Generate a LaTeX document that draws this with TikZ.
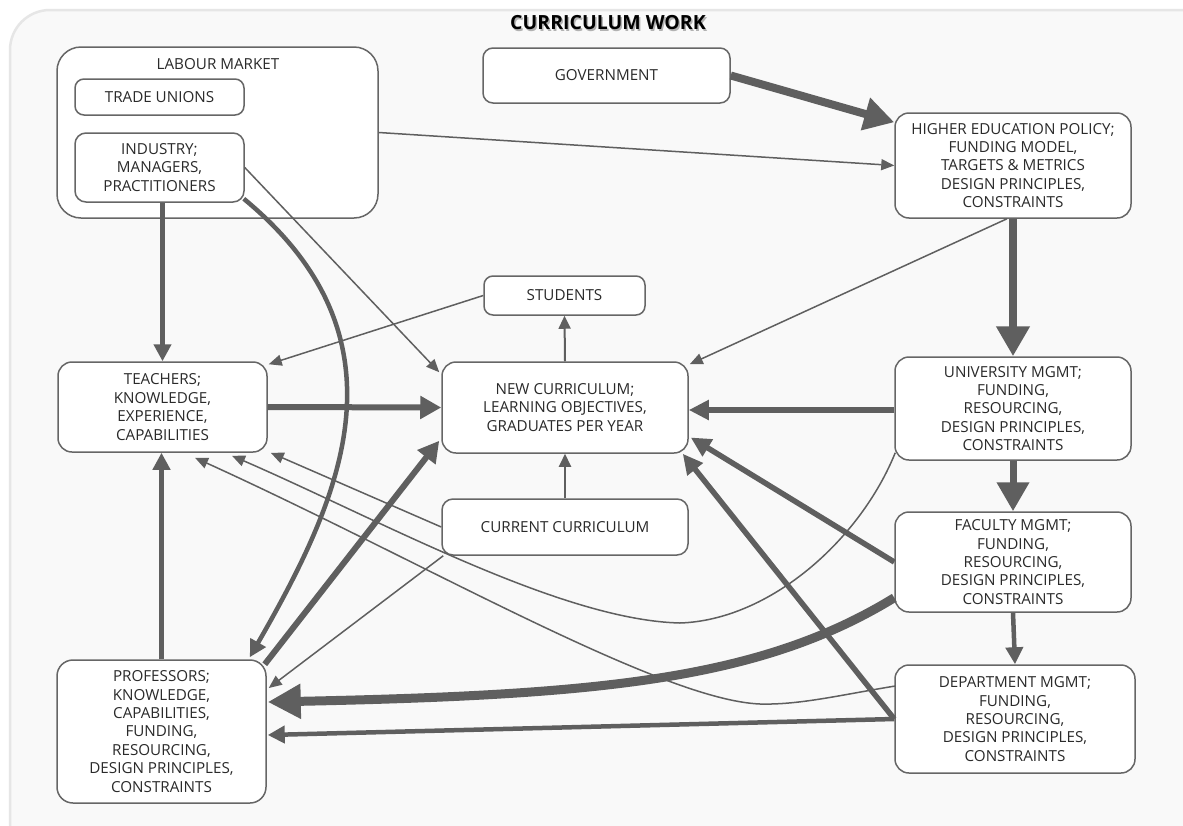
\documentclass[tikz,border=0pt]{standalone}
\usepackage{fontspec}
\setmainfont{Open Sans}
\usetikzlibrary{arrows.meta,calc}
\definecolor{lc}{HTML}{5F5F5F}
\definecolor{bc}{HTML}{666666}
\definecolor{tc}{HTML}{2A2A2A}
\definecolor{panelc}{HTML}{F9F9F9}
\definecolor{pedge}{HTML}{E6E6E6}
\tikzset{
 box/.style={draw=bc, line width=1.5pt, fill=white, rounded corners=14pt, inner sep=0pt,
   align=center, text=tc, font=\fontsize{15.2}{18.4}\selectfont},
 ln1/.style={draw=lc, line width=1.5pt, -{Triangle[length=13pt,width=11pt]}},
 ln2/.style={draw=lc, line width=2pt, -{Triangle[length=13pt,width=12pt]}},
 ln4/.style={draw=lc, line width=4.5pt, -{Triangle[length=17pt,width=17pt]}},
 ln5/.style={draw=lc, line width=5.5pt, -{Triangle[length=20pt,width=19pt]}},
 ln6/.style={draw=lc, line width=6pt, -{Triangle[length=21pt,width=22pt]}},
 ln7/.style={draw=lc, line width=7pt, -{Triangle[length=29pt,width=31pt]}},
 ln8/.style={draw=lc, line width=8pt, -{Triangle[length=30pt,width=32pt]}},
 ln9/.style={draw=lc, line width=9pt, -{Triangle[length=33pt,width=33pt]}},
}
\begin{document}
\begin{tikzpicture}[x=1pt,y=-1pt]
\useasboundingbox (0,0) rectangle (1183,825);
\begin{scope}
\clip (0,0) rectangle (1183,825);
\fill[white] (0,0) rectangle (1183,825);
\fill[panelc, draw=pedge, line width=2.5pt, rounded corners=40pt] (10,10) rectangle (1240,880);
\end{scope}
% title
\node[font=\fontsize{19.5}{22}\selectfont\bfseries, text=black!30] (titles) at (609.5,24.5) {CURRICULUM WORK};
\node[font=\fontsize{19.5}{22}\selectfont\bfseries, text=black] (title) at (608,23) {CURRICULUM WORK};
% nodes
\node[box, rounded corners=24pt, minimum width=321pt, minimum height=171pt] (lab) at (217.5,132.5) {};
\node[text=tc, font=\fontsize{15.2}{18.4}\selectfont, inner sep=0pt] (labt) at (218,64) {LABOUR MARKET};
\node[box, rounded corners=9pt, minimum width=169pt, minimum height=36pt] (tu) at (159.5,97) {TRADE UNIONS};
\node[box, rounded corners=11pt, minimum width=169pt, minimum height=69pt] (ind) at (159.5,167.5) {INDUSTRY;\\MANAGERS,\\PRACTITIONERS};
\node[box, rounded corners=10pt, minimum width=247pt, minimum height=55pt] (gov) at (606.5,75.5) {GOVERNMENT};
\node[box, minimum width=236pt, minimum height=105pt] (hep) at (1013,165.5) {HIGHER EDUCATION POLICY;\\FUNDING MODEL,\\TARGETS \& METRICS\\DESIGN PRINCIPLES,\\CONSTRAINTS};
\node[box, rounded corners=9pt, minimum width=161pt, minimum height=39pt] (stu) at (564.5,295.5) {STUDENTS};
\node[box, minimum width=209pt, minimum height=90pt] (tea) at (162.5,407) {TEACHERS;\\KNOWLEDGE,\\EXPERIENCE,\\CAPABILITIES};
\node[box, minimum width=246pt, minimum height=91pt] (nc) at (565,407.5) {NEW CURRICULUM;\\LEARNING OBJECTIVES,\\GRADUATES PER YEAR};
\node[box, minimum width=236pt, minimum height=103pt] (univ) at (1013,408.5) {UNIVERSITY MGMT;\\FUNDING,\\RESOURCING,\\DESIGN PRINCIPLES,\\CONSTRAINTS};
\node[box, rounded corners=11pt, minimum width=246pt, minimum height=56pt] (cc) at (565,527) {CURRENT CURRICULUM};
\node[box, minimum width=236pt, minimum height=100pt] (fac) at (1013,562) {FACULTY MGMT;\\FUNDING,\\RESOURCING,\\DESIGN PRINCIPLES,\\CONSTRAINTS};
\node[box, minimum width=240pt, minimum height=108pt] (dept) at (1015,719) {DEPARTMENT MGMT;\\FUNDING,\\RESOURCING,\\DESIGN PRINCIPLES,\\CONSTRAINTS};
\node[box, rounded corners=16pt, minimum width=209pt, minimum height=143pt] (prof) at (161.5,731.5) {PROFESSORS;\\KNOWLEDGE,\\CAPABILITIES,\\FUNDING,\\RESOURCING,\\DESIGN PRINCIPLES,\\CONSTRAINTS};
% connectors
\draw[ln8] (gov.east) -- ($(hep.north west)+(0,10)$);
\draw[ln1] (lab.east) -- (hep.west);
\draw[ln4] (ind.south -| tea.north) -- (tea.north);
\draw[ln4] ($(ind.south east)+(-1,-4)$) .. controls (415,340) and (340,500) .. ($(prof.north east)+(-17,-2)$);
\draw[ln1] (ind.east) -- ($(nc.north west)+(-2,11)$);
\draw[ln1] (stu.west) -- ($(tea.north east)+(1,3)$);
\draw[ln2] (nc.north) -- (stu.south);
\draw[ln2] (cc.north) -- (nc.south);
\draw[ln6] (tea.east) -- (nc.west);
\draw[ln1] ($(hep.south)+(-6,0)$) -- ($(nc.north east)+(1,3)$);
\draw[ln8] (hep.south) -- (univ.north);
\draw[ln5] ($(univ.west)+(0,1.5)$) -- ($(nc.east)+(0,2.5)$);
\draw[ln7] (univ.south) -- (fac.north);
\draw[ln4] (fac.south) -- (dept.north);
\draw[ln5] (fac.west) -- ($(nc.east)+(2,30)$);
\draw[ln5] (dept.west) -- ($(nc.south east)+(-6,0)$);
\draw[ln4] (dept.west) -- ($(prof.east)+(1,3.5)$);
\draw[ln9] ($(fac.south west)+(0,-15)$) .. controls (760,680) and (600,695) .. ($(prof.east)+(1,-29.5)$);
\draw[ln1] ($(univ.south west)+(1,-8)$) .. controls (860,540) and (770,620) .. (680,623) .. controls (560,620) and (380,520) .. ($(tea.south)+(69.5,3)$);
\draw[ln1] ($(dept.west)+(1,-33)$) .. controls (840,695) and (800,705) .. (760,704) .. controls (660,700) and (420,560) .. ($(tea.south)+(32.5,5)$);
\draw[ln1] (cc.west) -- ($(tea.south east)+(3,0)$);
\draw[ln1] ($(cc.south west)+(2,0)$) -- ($(prof.east)+(2,-43.5)$);
\draw[ln6] ($(prof.north east)+(-2,5)$) -- ($(nc.south west)+(-2,-13)$);
\draw[ln4] (prof.north) -- (prof.north |- tea.south);
\end{tikzpicture}
\end{document}
